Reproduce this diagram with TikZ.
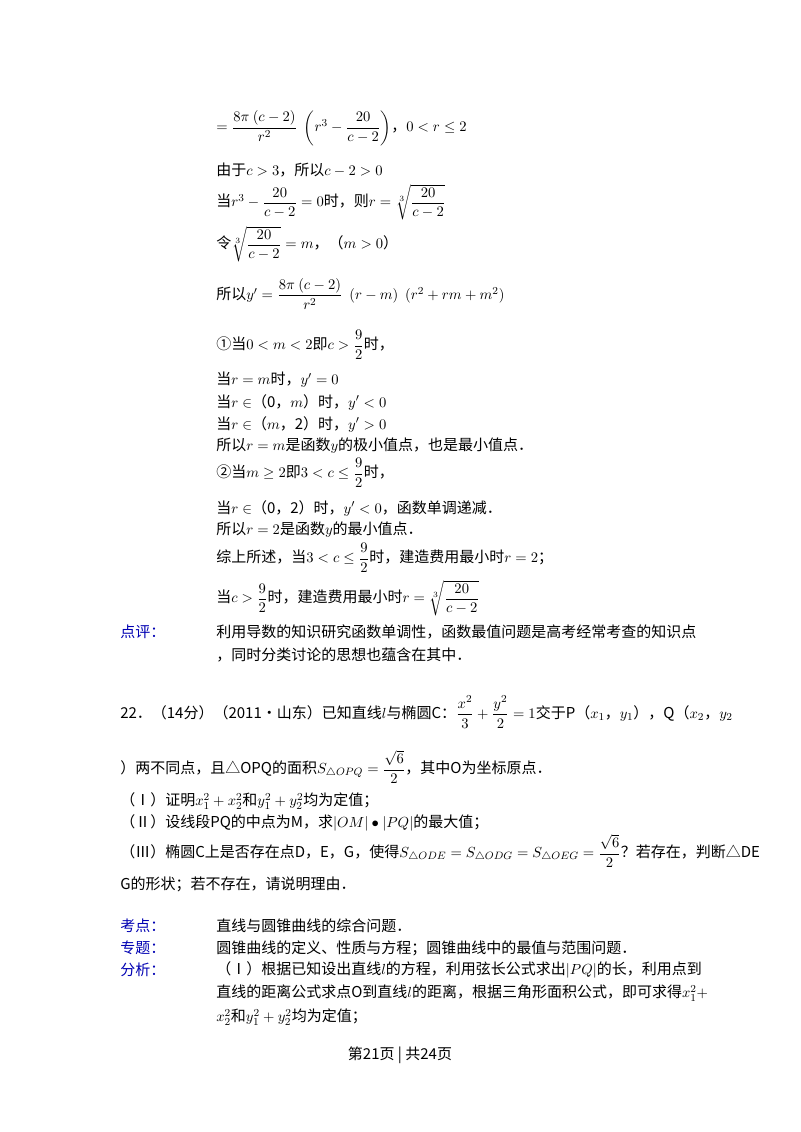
\documentclass[tikz,border=0pt]{standalone}
\usepackage{amsmath}
\usepackage{fontspec}
\newfontfamily\cjk{Noto Sans CJK SC}
\begin{document}
\begin{tikzpicture}[x=0.75pt,y=-0.75pt,
  t/.style={anchor=west,inner sep=0pt,font=\cjk\fontsize{11.25}{13}\selectfont},
  lab/.style={t,text=blue!70!black}]
\useasboundingbox (0,0) rectangle (800,1132);
\node[t] (l1) at (216,128) {$=\dfrac{8\pi\ (c-2)}{r^2}$\ \ $\left(r^3-\dfrac{20}{c-2}\right)$，$0<r\le 2$};
\node[t] (l2) at (216,170) {由于$c>3$，所以$c-2>0$};
\node[t] (l3) at (216,202) {当$r^3-\dfrac{20}{c-2}=0$时，则$r=\sqrt[3]{\dfrac{20}{c-2}}$};
\node[t] (l4) at (216,244) {令$\sqrt[3]{\dfrac{20}{c-2}}=m$，（$m>0$）};
\node[t] (l5) at (216,294) {所以$y'=\dfrac{8\pi\ (c-2)}{r^2}$\ \ $(r-m)$\ \ $(r^2+rm+m^2)$};
\node[t] (l6) at (216,345) {①当$0<m<2$即$c>\dfrac{9}{2}$时，};
\node[t] (l7) at (216,380) {当$r=m$时，$y'=0$};
\node[t] (l8) at (216,402) {当$r\in$（0，$m$）时，$y'<0$};
\node[t] (l9) at (216,424) {当$r\in$（$m$，2）时，$y'>0$};
\node[t] (l10) at (216,446) {所以$r=m$是函数$y$的极小值点，也是最小值点．};
\node[t] (l11) at (216,473) {②当$m\ge2$即$3<c\le\dfrac{9}{2}$时，};
\node[t] (l12) at (216,508) {当$r\in$（0，2）时，$y'<0$，函数单调递减．};
\node[t] (l13) at (216,530) {所以$r=2$是函数$y$的最小值点．};
\node[t] (l14) at (216,558) {综上所述，当$3<c\le\dfrac{9}{2}$时，建造费用最小时$r=2$；};
\node[t] (l15) at (216,598) {当$c>\dfrac{9}{2}$时，建造费用最小时$r=\sqrt[3]{\dfrac{20}{c-2}}$};
\node[lab] (p1) at (120,632) {点评：};
\node[t] (l16) at (216,632) {利用导数的知识研究函数单调性，函数最值问题是高考经常考查的知识点};
\node[t] (l17) at (216,655) {，同时分类讨论的思想也蕴含在其中．};
\node[t] (q1) at (120,712) {22．（14分）（2011•山东）已知直线$l$与椭圆C：$\dfrac{x^2}{3}+\dfrac{y^2}{2}=1$交于P（$x_1$，$y_1$），Q（$x_2$，$y_2$};
\node[t] (q2) at (120,767) {）两不同点，且△OPQ的面积$S_{\triangle OPQ}=\dfrac{\sqrt6}{2}$，其中O为坐标原点．};
\node[t] (q3) at (120,801) {（Ⅰ）证明$x_1^2+x_2^2$和$y_1^2+y_2^2$均为定值；};
\node[t] (q4) at (120,823) {（Ⅱ）设线段PQ的中点为M，求$|OM|\bullet|PQ|$的最大值；};
\node[t] (q5) at (120,851) {（Ⅲ）椭圆C上是否存在点D，E，G，使得$S_{\triangle ODE}=S_{\triangle ODG}=S_{\triangle OEG}=\dfrac{\sqrt6}{2}$？若存在，判断△DE};
\node[t] (q6) at (120,884) {G的形状；若不存在，请说明理由．};
\node[lab] (k1) at (120,926) {考点：};
\node[t] (k2) at (216,926) {直线与圆锥曲线的综合问题．};
\node[lab] (z1) at (120,948) {专题：};
\node[t] (z2) at (216,948) {圆锥曲线的定义、性质与方程；圆锥曲线中的最值与范围问题．};
\node[lab] (f1) at (120,970) {分析：};
\node[t] (f2) at (216,970) {（Ⅰ）根据已知设出直线$l$的方程，利用弦长公式求出$|PQ|$的长，利用点到};
\node[t] (f3) at (216,993) {直线的距离公式求点O到直线$l$的距离，根据三角形面积公式，即可求得$x_1^2+$};
\node[t] (f4) at (216,1017) {$x_2^2$和$y_1^2+y_2^2$均为定值；};
\node[t,anchor=center] (pg) at (400,1055) {第21页 | 共24页};
\end{tikzpicture}
\end{document}
